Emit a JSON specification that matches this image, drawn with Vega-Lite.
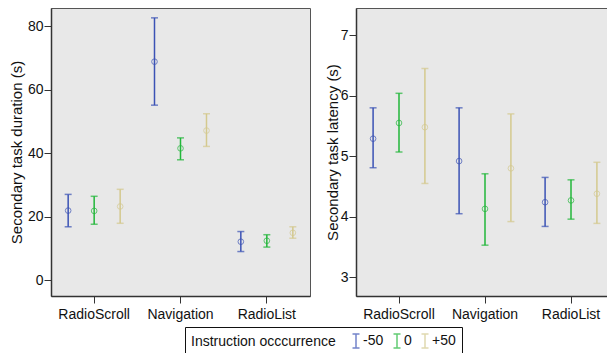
{
  "$schema": "https://vega.github.io/schema/vega-lite/v6.json",
  "padding": {"left": 8, "top": 7, "right": 0, "bottom": 30},
  "bounds": "flush",
  "spacing": 46,
  "background": "white",
  "config": {
    "font": "Liberation Sans",
    "view": {"fill": "#e8e8e8", "stroke": "#555", "strokeWidth": 1},
    "axis": {"labelFontSize": 14, "labelColor": "#111", "titleFontSize": 15, "titleFontWeight": "normal", "titleColor": "#111", "domainColor": "#333", "domainWidth": 1.5, "tickColor": "#333", "tickSize": 7, "grid": false},
    "legend": {"orient": "none", "legendX": 134, "legendY": 319, "direction": "horizontal", "titleOrient": "left", "titleFontSize": 14, "titleFontWeight": "normal", "titleColor": "#111", "titlePadding": 12, "titleBaseline": "middle", "labelFontSize": 14, "labelColor": "#111", "symbolType": "M-0.5,-1H0.5M0,-1V1M-0.5,1H0.5", "symbolSize": 196, "symbolStrokeWidth": 1.5, "symbolFillColor": "transparent", "labelOffset": -1, "columnPadding": 5, "strokeColor": "#111", "padding": 6, "fillColor": "white"}
  },
  "datasets": {
    "d": [
      {"task": "RadioScroll", "grp": "-50", "dm": 21.9, "dl": 16.8, "dh": 27.0, "lm": 5.29, "ll": 4.81, "lh": 5.80},
      {"task": "RadioScroll", "grp": "0", "dm": 21.8, "dl": 17.6, "dh": 26.4, "lm": 5.55, "ll": 5.07, "lh": 6.04},
      {"task": "RadioScroll", "grp": "+50", "dm": 23.2, "dl": 17.9, "dh": 28.6, "lm": 5.48, "ll": 4.55, "lh": 6.45},
      {"task": "Navigation", "grp": "-50", "dm": 68.8, "dl": 55.1, "dh": 82.6, "lm": 4.92, "ll": 4.05, "lh": 5.80},
      {"task": "Navigation", "grp": "0", "dm": 41.5, "dl": 37.9, "dh": 44.8, "lm": 4.13, "ll": 3.53, "lh": 4.71},
      {"task": "Navigation", "grp": "+50", "dm": 47.1, "dl": 42.1, "dh": 52.4, "lm": 4.80, "ll": 3.92, "lh": 5.70},
      {"task": "RadioList", "grp": "-50", "dm": 12.1, "dl": 9.0, "dh": 15.3, "lm": 4.24, "ll": 3.84, "lh": 4.65},
      {"task": "RadioList", "grp": "0", "dm": 12.4, "dl": 10.4, "dh": 14.3, "lm": 4.27, "ll": 3.96, "lh": 4.61},
      {"task": "RadioList", "grp": "+50", "dm": 14.9, "dl": 13.2, "dh": 16.8, "lm": 4.38, "ll": 3.89, "lh": 4.90}
    ]
  },
  "resolve": {"scale": {"y": "independent", "x": "independent", "xOffset": "independent"}},
  "hconcat": [
    {
      "width": 259,
      "height": 288,
      "data": {"name": "d"},
      "encoding": {
        "x": {"field": "task", "type": "nominal", "sort": ["RadioScroll", "Navigation", "RadioList"], "title": null, "scale": {"paddingInner": 0, "paddingOuter": 0}, "axis": {"labelAngle": 0, "labelPadding": 4}},
        "xOffset": {"field": "grp", "type": "nominal", "sort": ["-50", "0", "+50"], "scale": {"paddingInner": 0, "paddingOuter": 0.16}},
        "color": {"field": "grp", "type": "nominal", "sort": ["-50", "0", "+50"], "scale": {"domain": ["-50", "0", "+50"], "range": ["#3b52b5", "#22b73a", "#d4c98e"]}, "title": "Instruction occcurrence"}
      },
      "layer": [
        {"mark": {"type": "rule", "strokeWidth": 1.5}, "encoding": {"y": {"field": "dl", "type": "quantitative", "title": "Secondary task duration (s)", "scale": {"domain": [-5, 85.7], "nice": false, "zero": false}, "axis": {"values": [0, 20, 40, 60, 80], "labelPadding": 1, "titlePadding": 3}}, "y2": {"field": "dh"}}},
        {"mark": {"type": "tick", "size": 7, "thickness": 1.5, "orient": "horizontal"}, "encoding": {"y": {"field": "dl", "type": "quantitative"}}},
        {"mark": {"type": "tick", "size": 7, "thickness": 1.5, "orient": "horizontal"}, "encoding": {"y": {"field": "dh", "type": "quantitative"}}},
        {"mark": {"type": "point", "filled": false, "size": 32, "strokeWidth": 1}, "encoding": {"y": {"field": "dm", "type": "quantitative"}}}
      ]
    },
    {
      "width": 253,
      "height": 288,
      "data": {"name": "d"},
      "encoding": {
        "x": {"field": "task", "type": "nominal", "sort": ["RadioScroll", "Navigation", "RadioList"], "title": null, "scale": {"paddingInner": 0, "paddingOuter": 0, "range": [0, 258]}, "axis": {"labelAngle": 0, "labelPadding": 4}},
        "xOffset": {"field": "grp", "type": "nominal", "sort": ["-50", "0", "+50"], "scale": {"paddingInner": 0, "paddingOuter": 0.16}},
        "color": {"field": "grp", "type": "nominal", "sort": ["-50", "0", "+50"], "scale": {"domain": ["-50", "0", "+50"], "range": ["#3b52b5", "#22b73a", "#d4c98e"]}, "title": "Instruction occcurrence"}
      },
      "layer": [
        {"mark": {"type": "rule", "strokeWidth": 1.5}, "encoding": {"y": {"field": "ll", "type": "quantitative", "title": "Secondary task latency (s)", "scale": {"domain": [2.69, 7.45], "nice": false, "zero": false}, "axis": {"values": [3, 4, 5, 6, 7], "format": "d", "labelPadding": 1, "titlePadding": 0}}, "y2": {"field": "lh"}}},
        {"mark": {"type": "tick", "size": 7, "thickness": 1.5, "orient": "horizontal"}, "encoding": {"y": {"field": "ll", "type": "quantitative"}}},
        {"mark": {"type": "tick", "size": 7, "thickness": 1.5, "orient": "horizontal"}, "encoding": {"y": {"field": "lh", "type": "quantitative"}}},
        {"mark": {"type": "point", "filled": false, "size": 32, "strokeWidth": 1}, "encoding": {"y": {"field": "lm", "type": "quantitative"}}}
      ]
    }
  ]
}
